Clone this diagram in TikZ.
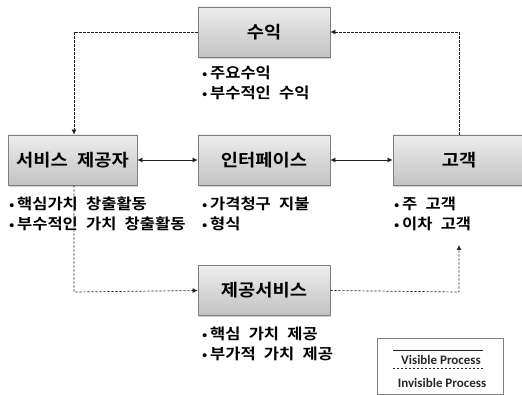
\documentclass[tikz,border=0pt]{standalone}
\usepackage{fontspec}
\setmainfont{Noto Sans CJK KR}[BoldFont={* Bold}, WordSpace=2.2, FakeStretch=1.1]
\newfontfamily\legendfont{Carlito}[BoldFont={Carlito Bold}]
\usetikzlibrary{arrows.meta,shadows}
\definecolor{boxtop}{HTML}{EDEDED}
\definecolor{boxbot}{HTML}{C2C2C2}
\definecolor{boxline}{HTML}{7F7F7F}
\definecolor{arrowc}{HTML}{222222}
\newcommand\bul{\makebox[8pt][l]{\scalebox{0.85}{•}}}
\tikzset{
  procbox/.style={draw=boxline, line width=0.8pt, top color=boxtop, bottom color=boxbot,
    minimum width=132pt, minimum height=50pt, inner sep=0pt,
    font=\fontsize{17}{20}\selectfont\bfseries, text=black,
    drop shadow={shadow xshift=1pt, shadow yshift=-2pt, fill=black!35, opacity=0.5}},
  bullets/.style={anchor=north west, align=left, inner sep=0pt,
    font=\fontsize{15}{20}\selectfont\bfseries, text=black},
  solidarr/.style={draw=arrowc, line width=0.7pt, {Latex[length=5pt,width=5pt]}-{Latex[length=5pt,width=5pt]}},
  dasharr/.style={draw=arrowc, line width=0.7pt, dash pattern=on 2.2pt off 1.8pt, -{Latex[length=5pt,width=5pt]}},
  dashline/.style={draw=arrowc, line width=0.6pt, dash pattern=on 2.2pt off 1.8pt},
  legendtext/.style={font=\legendfont\fontsize{13}{15}\selectfont\bfseries, text=black!85, inner sep=0pt},
}
\begin{document}
\begin{tikzpicture}[x=1pt,y=-1pt]
\useasboundingbox (0,0) rectangle (522,395);
\node[procbox] (rev) at (264,32) {수익};
\node[procbox, minimum width=129pt] (prov) at (72.5,160) {서비스 제공자};
\node[procbox] (intf) at (264,160) {인터페이스};
\node[procbox, minimum width=132pt] (cust) at (459,160) {고객};
\node[procbox] (svc) at (264,290.5) {제공서비스};

\node[bullets] (revl) at (202,66) {\bul 주요수익\\\bul 부수적인 수익};
\node[bullets] (provl) at (9,197) {\bul 핵심가치 창출활동\\\bul 부수적인 가치 창출활동};
\node[bullets] (intfl) at (202,197) {\bul 가격청구 지불\\\bul 형식};
\node[bullets] (custl) at (394,197) {\bul 주 고객\\\bul 이차 고객};
\node[bullets] (svcl) at (202,327) {\bul 핵심 가치 제공\\\bul 부가적 가치 제공};

\draw[solidarr] (prov.east) -- (intf.west);
\draw[solidarr] (intf.east) -- (cust.west);

\coordinate (c1) at (74,32);
\coordinate (c2) at (459,32);
\coordinate (c3) at (74,292);
\coordinate (c4) at (459,292);
\coordinate (c5) at (459,245);
\draw[dasharr] (rev.west) -- (c1) -- (prov.north -| c1);
\draw[dasharr] (cust.north) -- (c2) -- (rev.east);
\draw[dasharr] (prov.south -| c3) -- (c3) -- (svc.west);
\draw[dasharr] (svc.east) -- (c4) -- (c5);

\node[draw=boxline, line width=0.8pt, minimum width=126pt, minimum height=56pt, inner sep=0pt] (legend) at (440,366) {};
\coordinate (l1a) at (393,350);
\coordinate (l1b) at (483,350);
\coordinate (l2a) at (393,368);
\coordinate (l2b) at (483,368);
\draw[arrowc, line width=0.7pt] (l1a) -- (l1b);
\draw[dashline] (l2a) -- (l2b);
\node[legendtext] (vis) at (441,360) {Visible Process};
\node[legendtext] (invis) at (442,383) {Invisible Process};
\end{tikzpicture}
\end{document}
